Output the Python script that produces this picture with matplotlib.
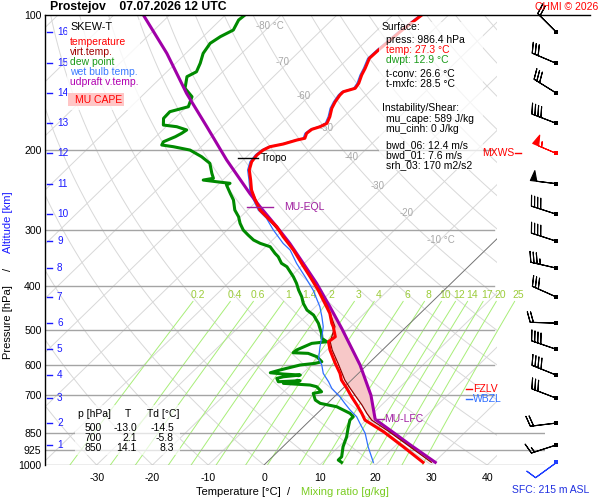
import numpy as np
import matplotlib
matplotlib.use('Agg')
import matplotlib.pyplot as plt
from matplotlib.patches import Rectangle
from matplotlib.ticker import NullLocator, NullFormatter
import matplotlib.transforms as mtransforms

plt.rcParams['font.family'] = ['Liberation Sans', 'DejaVu Sans']

# ---------------- data ----------------
pressure_ticks = [100, 200, 300, 400, 500, 600, 700, 850, 925, 1000]
isobar_levels = [200, 300, 400, 500, 600, 700, 850, 925, 1000]
temp_ticks = [-30, -20, -10, 0, 10, 20, 30, 40]
mixing_ratios = [0.2, 0.4, 0.6, 1, 1.4, 2, 3, 4, 6, 8, 10, 12, 14, 17, 20, 25]
mixing_labels = ['0.2', '0.4', '0.6', '1', '1.4', '2', '3', '4', '6', '8',
                 '10', '12', '14', '17', '20', '25']
isotherm_label_t = [-80, -70, -60, -50, -40, -30, -20, -10]
isotherm_label_p = [106, 127, 151, 178, 207, 240, 275, 316]
isotherm_label_txt = ['-80 °C', '-70', '-60', '-50', '-40', '-30', '-20', '-10 °C']

km_levels = list(range(1, 17))
km_p = [903, 807, 710, 631, 553, 484, 423, 365, 318, 277, 237, 203, 174, 149, 128, 109]

temp_p = [986.4, 911.0, 843.6, 794.6, 767.9, 735.9, 705.2, 675.6, 647.5, 625.7,
          594.4, 555.3, 532.2, 518.8, 493.0, 484.4, 460.3, 445.0, 408.5, 381.6,
          356.3, 332.9, 311.0, 295.5, 283.0, 271.3, 257.7, 244.9, 232.7, 221.0,
          211.9, 204.7, 199.6, 196.2, 193.5, 189.6, 187.9, 183.2, 179.5, 177.1,
          174.1, 168.3, 161.2, 155.9, 150.6, 148.1, 145.5, 141.8, 135.9, 131.4,
          124.8, 119.6, 108.9, 100.0]
temp_t = [28.0, 21.6, 15.3, 9.8, 8.0, 5.6, 3.1, 0.7, -1.8, -3.3,
          -6.0, -9.4, -11.2, -10.9, -13.1, -14.0, -16.2, -18.0, -22.6, -26.5,
          -30.5, -34.4, -38.7, -41.7, -44.8, -47.8, -50.5, -53.0, -55.0, -57.1,
          -58.2, -58.5, -58.3, -57.7, -55.8, -54.1, -53.0, -53.6, -53.4, -52.4,
          -51.8, -52.5, -53.7, -54.3, -54.7, -54.7, -53.2, -53.5, -54.5, -55.1,
          -56.2, -56.1, -55.6, -54.8]

tv_p = [986.4, 911.0, 843.6, 794.6, 767.9, 735.9, 705.2, 675.6, 647.5, 594.4,
        555.3, 532.2, 493.0, 445.0, 408.5, 356.3, 311.0, 271.3, 244.9]
tv_t = [29.5, 22.8, 16.3, 11.0, 8.9, 6.5, 3.9, 1.3, -1.2, -5.5,
        -9.0, -10.9, -12.8, -17.8, -22.5, -30.4, -38.6, -47.7, -53.0]

dew_p = [986.4, 975.1, 958.8, 911.0, 865.5, 829.1, 794.6, 781.3, 767.9, 742.3,
         729.5, 717.2, 693.1, 687.5, 670.0, 664.2, 658.5, 649.7, 653.1, 641.8,
         636.6, 631.1, 627.9, 623.7, 615.2, 609.9, 599.6, 594.4, 589.6, 574.7,
         564.8, 563.0, 555.3, 536.7, 532.2, 523.1, 509.9, 484.4, 464.3, 452.6,
         437.3, 422.8, 408.5, 394.8, 381.6, 362.6, 356.3, 344.5, 338.6, 327.3,
         321.7, 316.3, 308.3, 300.5, 290.4, 280.7, 271.3, 257.7, 249.1, 238.7,
         236.6, 234.7, 232.7, 230.6, 224.8, 213.6, 206.5, 199.6, 196.2, 194.5,
         191.3, 186.4, 183.2, 180.1, 177.1, 175.6, 169.7, 164.0, 159.9, 151.9,
         145.5, 137.1, 133.7, 128.0, 121.7, 115.6, 111.7, 108.0, 102.6, 100.0]
dew_t = [13.4, 12.4, 12.4, 10.8, 9.6, 8.3, 7.1, 7.1, 5.9, 2.3,
         -1.3, -2.8, -4.4, -3.2, -5.0, -6.5, -11.6, -9.1, -12.8, -13.7,
         -12.8, -10.1, -13.3, -15.9, -14.7, -13.8, -12.0, -9.6, -8.7, -10.5,
         -12.7, -15.5, -15.4, -13.9, -11.5, -13.0, -14.0, -16.4, -18.8, -20.9,
         -22.8, -24.3, -26.1, -27.7, -29.5, -32.5, -34.1, -35.9, -37.1, -39.2,
         -41.6, -43.4, -45.3, -47.1, -48.9, -50.4, -52.3, -54.4, -56.2, -58.4,
         -58.1, -60.8, -63.5, -62.0, -63.2, -65.4, -68.1, -71.4, -75.0, -77.4,
         -77.7, -76.5, -76.0, -75.7, -78.1, -80.8, -82.0, -82.1, -79.7, -80.9,
         -83.7, -85.5, -84.7, -85.6, -86.9, -87.5, -86.9, -85.8, -86.7, -86.5]

wb_p = [986.4, 911.0, 850.6, 808.1, 781.3, 755.0, 729.5, 705.2, 687.5, 675.6,
        653.1, 625.7, 599.6, 579.4, 546.0, 518.8, 493.0, 468.3, 445.0, 408.5,
        381.6, 356.3, 332.9, 321.7, 300.5, 283.0, 271.3, 257.7, 244.9, 232.7,
        221.0, 211.9, 204.7, 199.6, 196.2, 193.5, 189.6, 187.9, 183.2, 179.5,
        177.1, 174.1, 168.3, 161.2, 155.9, 150.6, 148.1, 145.5, 141.8, 135.9,
        131.4, 124.8, 119.6, 108.9, 100.0]
wb_t = [19.1, 15.3, 12.3, 9.5, 7.7, 5.3, 3.1, 1.0, -0.8, -2.0,
        -3.8, -6.3, -8.1, -9.9, -11.8, -13.3, -14.9, -17.0, -19.2, -23.5,
        -27.4, -31.4, -35.0, -37.5, -41.7, -45.1, -48.1, -50.8, -53.3, -55.3,
        -57.4, -58.5, -58.8, -58.6, -58.0, -56.1, -54.4, -53.3, -53.9, -53.7,
        -52.7, -52.1, -52.8, -54.0, -54.6, -55.0, -55.0, -53.5, -53.8, -54.8,
        -55.4, -56.5, -56.4, -55.9, -55.1]

parcel_p = [986.4, 900, 850, 791.7, 700, 600, 497, 445.0, 394.8, 356.3, 321.7,
            295.5, 266.7, 249.1, 210.0, 177.1, 149.3, 121.7, 100]
parcel_t = [30.2, 22.3, 17.5, 11.5, 6.3, -1.2, -11.3, -17.4, -24.1, -30.2, -36.3,
            -41.7, -48.4, -52.7, -63.0, -72.7, -82.5, -93.4, -104.7]

lfc_p, lfc_t = 791.7, 11.5
eql_p, eql_t = 266.7, -48.4
tropo_p, tropo_t = 208, -58.4
fzl_p = 678
wbz_p = 714
mxws_p = 203

wind_p = [986.4, 903, 807, 710, 631, 553, 484, 423, 365, 318, 277, 237, 203, 174, 149, 128, 109]
wind_dir = [234, 252, 263, 291, 292, 289, 272, 294, 283, 288, 288, 277, 293, 291, 302, 293, 315]
wind_spd = [10, 15, 20, 30, 40, 40, 20, 30, 35, 40, 40, 50, 55, 40, 30, 30, 20]

table_rows = [('500', '-13.0', '-14.5'), ('700', '2.1', '-5.8'), ('850', '14.1', '8.3')]

# ---------------- helpers ----------------
SKEW = 36.08


def skx(t, p):
    return np.asarray(t, dtype=float) + SKEW * np.log(1000.0 / np.asarray(p, dtype=float))


def fxy(x, y):
    return x / 600.0, 1 - y / 500.0


fig = plt.figure(figsize=(6, 5), dpi=100)
fig.patch.set_facecolor('white')
ax = fig.add_axes([45 / 600, 35 / 500, 500 / 600, 450 / 500])
ax.set_yscale('log')
ax.set_ylim(1000, 100)
ax.set_xlim(-39.25, 50.36)
ax.patch.set_alpha(0)
for s in ['right', 'bottom', 'top']:
    ax.spines[s].set_visible(False)
ax.spines['left'].set_color('black')
ax.spines['left'].set_linewidth(1.0)

ax.yaxis.set_minor_locator(NullLocator())
ax.yaxis.set_minor_formatter(NullFormatter())
ax.set_yticks(pressure_ticks)
ax.set_yticklabels([str(p) for p in pressure_ticks])
ax.set_xticks(temp_ticks)
ax.set_xticklabels([str(t) for t in temp_ticks])
ax.tick_params(axis='y', length=0, pad=2.5, labelsize=7.6)
ax.tick_params(axis='x', length=0, pad=6, labelsize=7.6)

clip = Rectangle((0, 0), 452 / 500, 1, transform=ax.transAxes, facecolor='none', edgecolor='none')

# isotherms
pp = np.array([1000.0, 100.0])
for t in range(-160, 60, 10):
    ln, = ax.plot(skx(t, pp), pp, color='#d8d8d8', lw=0.7, zorder=1)
    ln.set_clip_path(clip)
# dry adiabats
pa = np.geomspace(1000, 100, 60)
for th in range(-40, 220, 10):
    ta = (th + 273.15) * (pa / 1000.0) ** 0.2857 - 273.15
    ln, = ax.plot(skx(ta, pa), pa, color='#d8d8d8', lw=0.7, zorder=1)
    ln.set_clip_path(clip)
# 0 C isotherm
ln, = ax.plot(skx(0, pp), pp, color='#707070', lw=0.6, zorder=2.6)
ln.set_clip_path(clip)

# isotherm labels
off = mtransforms.offset_copy(ax.transData, fig=fig, x=-13, y=0, units='dots')
for t, p, s in zip(isotherm_label_t, isotherm_label_p, isotherm_label_txt):
    ax.text(skx(t, p), p, s, transform=off, color='#a8a8a8', fontsize=7,
            ha='left', va='center', zorder=1.3)

# mixing ratio lines
pm = np.geomspace(1000, 433, 30)
for w, lab in zip(mixing_ratios, mixing_labels):
    e = w * pm / (622.0 + w)
    lr = np.log(e / 6.112)
    td = 243.5 * lr / (17.67 - lr)
    ax.plot(skx(td, pm), pm, color='#a8ee78', lw=0.7, zorder=1.2)
    e0 = w * 419 / (622.0 + w)
    l0 = np.log(e0 / 6.112)
    td0 = 243.5 * l0 / (17.67 - l0)
    ax.text(skx(td0, 419), 419, lab, color='#9ccc3a', fontsize=7.5,
            ha='center', va='center', zorder=1.3)

# isobars
yt = ax.get_yaxis_transform()
for p in isobar_levels:
    xe = 1.0 if p >= 850 else 0.898
    ax.plot([0, xe], [p, p], transform=yt, color='#a4a4a4', lw=1.0, zorder=1.5)
ax.plot([0, 1.09], [100, 100], transform=yt, color='black', lw=1.0, clip_on=False, zorder=6)

# km ticks
for k, p in zip(km_levels, km_p):
    ax.plot([0.004, 0.014], [p, p], transform=yt, color='#1a1aff', lw=1.0, zorder=6)
    ax.text(0.024, p, str(k), transform=yt, color='#1a1aff', fontsize=7.2,
            ha='left', va='center', zorder=6)

# CAPE fill
pf = np.geomspace(lfc_p, eql_p, 200)
lp_tv = np.log(np.array(tv_p)[::-1])
lp_pa = np.log(np.array(parcel_p)[::-1])
xl = skx(np.interp(np.log(pf), lp_tv, np.array(tv_t)[::-1]), pf)
xr = skx(np.interp(np.log(pf), lp_pa, np.array(parcel_t)[::-1]), pf)
ax.fill_betweenx(pf, xl, xr, where=xr >= xl, color='#f7c8c8', lw=0, zorder=2)

# profiles
ax.plot(skx(dew_t, dew_p), dew_p, color='#008a00', lw=2.2, zorder=3)
ax.plot(skx(wb_t, wb_p), wb_p, color='#2f6fff', lw=0.9, zorder=3.5)
ax.plot(skx(parcel_t, parcel_p), parcel_p, color='#a000a8', lw=2.2, zorder=4)
ax.plot(skx(tv_t, tv_p), tv_p, color='#8b0000', lw=0.9, zorder=4.4)
ax.plot(skx(temp_t, temp_p), temp_p, color='#ff0000', lw=2.2, zorder=4.5)

# level annotations
x0 = float(skx(tropo_t, tropo_p))
ax.plot([x0 - 3.0, x0 + 0.7], [tropo_p, tropo_p], color='black', lw=1.0, zorder=5)
ax.text(x0 + 1.2, tropo_p, 'Tropo', fontsize=7.5, va='center', ha='left', zorder=5)
x1 = float(skx(eql_t, eql_p))
ax.plot([x1 - 2.3, x1 + 2.3], [eql_p, eql_p], color='#a020a0', lw=1.0, zorder=5)
ax.text(x1 + 4.3, eql_p, 'MU-EQL', color='#a020a0', fontsize=7.5, va='center', ha='left', zorder=5)
x2 = float(skx(lfc_t, lfc_p))
ax.plot([x2, x2 + 1.5], [lfc_p, lfc_p], color='#a020a0', lw=1.0, zorder=5)
ax.text(x2 + 1.6, lfc_p, 'MU-LFC', color='#a020a0', fontsize=7.5, va='center', ha='left', zorder=5)
ax.plot([0.842, 0.854], [fzl_p, fzl_p], transform=yt, color='red', lw=1.0, zorder=5)
ax.text(0.856, fzl_p, 'FZLV', transform=yt, color='red', fontsize=7.5, va='center', ha='left', zorder=5)
ax.plot([0.842, 0.854], [wbz_p, wbz_p], transform=yt, color='#2f6fff', lw=1.0, zorder=5)
ax.text(0.856, wbz_p, 'WBZL', transform=yt, color='#2f6fff', fontsize=7.5, va='center', ha='left', zorder=5)
ax.text(0.874, mxws_p, 'MXWS', transform=yt, color='red', fontsize=7.5, va='center', ha='left', zorder=5)
ax.plot([0.94, 0.952], [mxws_p, mxws_p], transform=yt, color='red', lw=1.0, zorder=5, clip_on=False)

# wind barbs
bax = fig.add_axes([497 / 600, 35 / 500, 103 / 600, 450 / 500])
bax.set_yscale('log')
bax.set_ylim(1000, 100)
bax.set_xlim(0, 1)
bax.axis('off')
wd = np.radians(wind_dir)
ws = np.array(wind_spd, dtype=float)
u = -ws * np.sin(wd)
v = -ws * np.cos(wd)
bxp = np.full(len(wind_p), 0.573)
wp = np.array(wind_p)
cols = np.array(['black'] * len(wind_p), dtype=object)
cols[0] = '#1f3fff'
cols[12] = 'red'
for c in ['black', 'red', '#1f3fff']:
    m = cols == c
    bb = bax.barbs(bxp[m], wp[m], u[m], v[m], length=6.1, color=c, lw=0.8, pivot='tip')
    bb.set_clip_on(False)
    sc = bax.scatter(bxp[m], wp[m], s=7, marker='s', color=c, zorder=5, linewidths=0)
    sc.set_clip_on(False)

# ---------------- figure texts ----------------
def ft(x, y, s, **kw):
    fx, fy = fxy(x, y)
    kw.setdefault('va', 'center')
    kw.setdefault('fontsize', 7.5)
    fig.text(fx, fy, s, **kw)


def fbox(x0_, y0_, x1_, y1_, **kw):
    fx0, fy1 = fxy(x0_, y1_)
    r = Rectangle((fx0, fy1), (x1_ - x0_) / 600, (y1_ - y0_) / 500,
                  transform=fig.transFigure, **kw)
    fig.add_artist(r)


ft(50, 7, 'Prostejov    07.07.2026 12 UTC', fontsize=8.8, fontweight='bold')
ft(598, 7, 'CHMI © 2026', color='red', ha='right')

# legend box
fbox(67, 20, 140, 110, facecolor='white', alpha=0.8, edgecolor='none', zorder=2)
ft(70, 27, 'SKEW-T', fontsize=7.8)
ft(70, 42, 'temperature', color='#ff0000')
ft(70, 52, 'virt.temp.', color='#a00000')
ft(70, 62, 'dew point', color='#1a9a1a')
ft(70, 72, 'wet bulb temp.', color='#3a7aff')
ft(70, 82, 'udpraft v.temp.', color='#b000b0')
fbox(68, 93, 124, 106, facecolor='#ffc6c6', edgecolor='none', zorder=2.5)
ft(75, 100, 'MU CAPE', color='#ff0000')

# surface / instability box
fbox(379, 22, 483, 170, facecolor='white', alpha=0.72, edgecolor='none', zorder=2)
ft(382, 27, 'Surface:')
ft(386, 40, 'press: 986.4 hPa')
ft(386, 50, 'temp: 27.3 °C', color='#ff0000')
ft(386, 60, 'dwpt: 12.9 °C', color='#1a9a1a')
ft(386, 74, 't-conv: 26.6 °C')
ft(386, 84, 't-mxfc: 28.5 °C')
ft(382, 108, 'Instability/Shear:')
ft(386, 119, 'mu_cape: 589 J/kg')
ft(386, 129, 'mu_cinh: 0 J/kg')
ft(386, 145, 'bwd_06: 12.4 m/s')
ft(386, 155, 'bwd_01: 7.6 m/s')
ft(386, 165, 'srh_03: 170 m2/s2')

# table
fbox(75, 405, 180, 455, facecolor='white', alpha=0.7, edgecolor='none', zorder=2)
ft(78, 414, 'p [hPa]')
ft(128, 414, 'T', ha='center')
ft(147, 414, 'Td [°C]')
for i, (pv, tv, tdv) in enumerate(table_rows):
    yy = 428 + 10.2 * i
    ft(102, yy, pv, ha='right')
    ft(137, yy, tv, ha='right')
    ft(174, yy, tdv, ha='right')

# axis labels
ft(8, 322, 'Pressure [hPa]', rotation=90, ha='center', fontsize=8)
ft(8, 269, '/', rotation=90, ha='center', fontsize=8)
ft(8, 222, 'Altitude [km]', rotation=90, ha='center', fontsize=8, color='#1a1aff')
ft(238, 492, 'Temperature [°C]', ha='center', fontsize=8)
ft(289, 492, '/', ha='center', fontsize=8)
ft(345, 492, 'Mixing ratio [g/kg]', ha='center', fontsize=8, color='#7acc22')
ft(551, 490, 'SFC: 215 m ASL', ha='center', fontsize=7.5, color='#2030e0')

fig.savefig('out.png', dpi=100)
